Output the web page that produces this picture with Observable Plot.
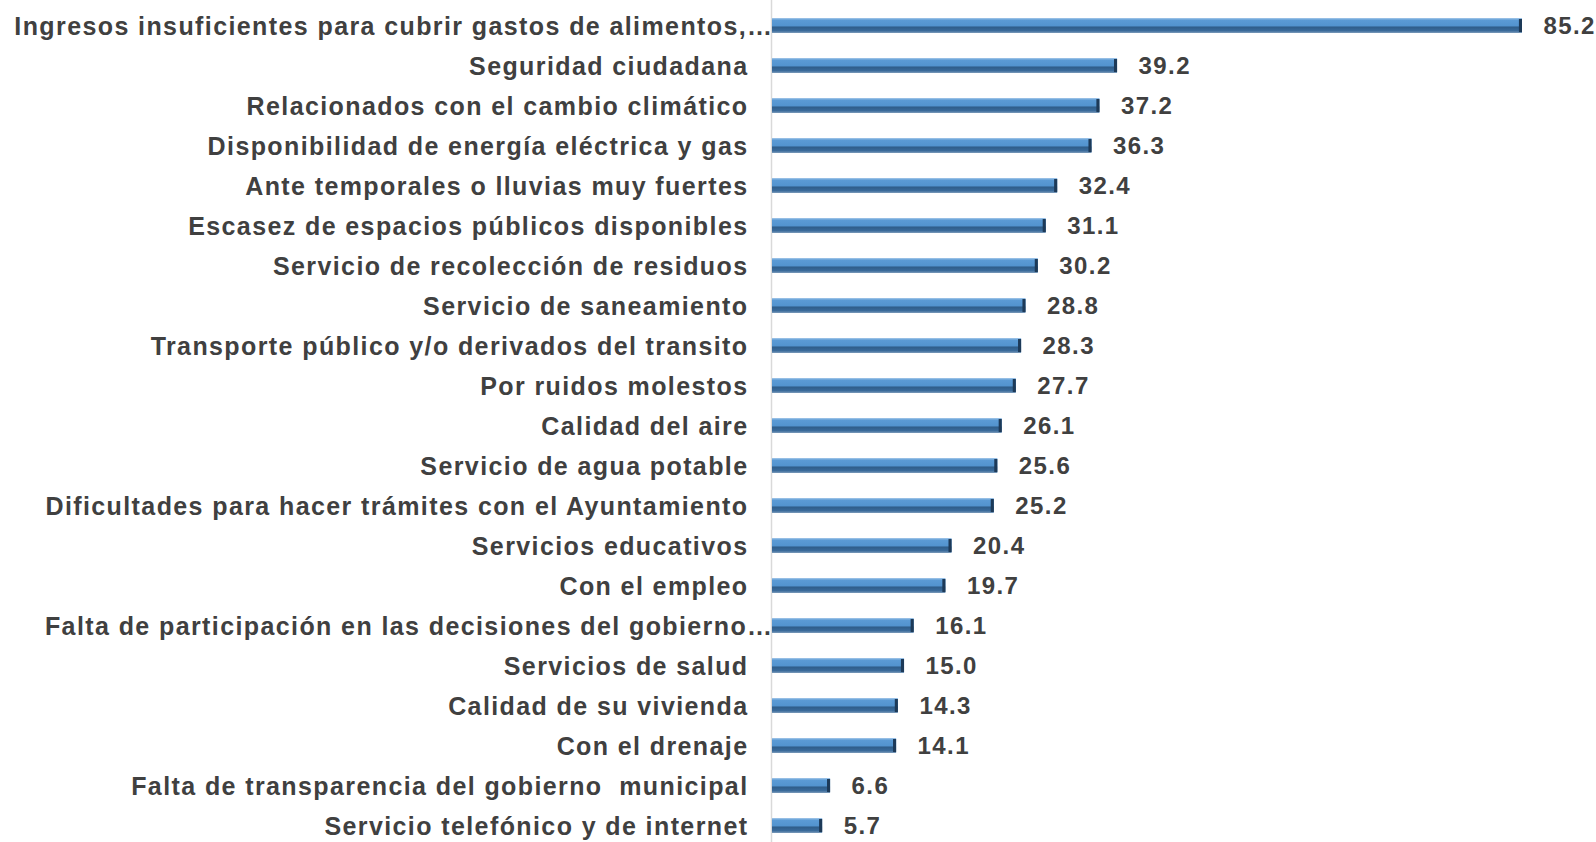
<!DOCTYPE html>
<html>
<head>
<meta charset="utf-8">
<script src="https://cdn.jsdelivr.net/npm/d3@7"></script>
<script src="https://cdn.jsdelivr.net/npm/@observablehq/plot@0.6"></script>
<style>
  html, body { margin: 0; padding: 0; background: #fff; }
</style>
</head>
<body>
<div id="chart"></div>
<script>
const categories = [
  "Ingresos insuficientes para cubrir gastos de alimentos,…",
  "Seguridad ciudadana",
  "Relacionados con el cambio climático",
  "Disponibilidad de energía eléctrica y gas",
  "Ante temporales o lluvias muy fuertes",
  "Escasez de espacios públicos disponibles",
  "Servicio de recolección de residuos",
  "Servicio de saneamiento",
  "Transporte público y/o derivados del transito",
  "Por ruidos molestos",
  "Calidad del aire",
  "Servicio de agua potable",
  "Dificultades para hacer trámites con el Ayuntamiento",
  "Servicios educativos",
  "Con el empleo",
  "Falta de participación en las decisiones del gobierno…",
  "Servicios de salud",
  "Calidad de su vivienda",
  "Con el drenaje",
  "Falta de transparencia del gobierno  municipal",
  "Servicio telefónico y de internet"
];
const values = [85.2, 39.2, 37.2, 36.3, 32.4, 31.1, 30.2, 28.8, 28.3, 27.7, 26.1, 25.6, 25.2, 20.4, 19.7, 16.1, 15.0, 14.3, 14.1, 6.6, 5.7];

const data = categories.map((c, i) => ({label: c, value: values[i]}));
const truncated = data.filter(d => d.label.endsWith("…"));
const full = data.filter(d => !d.label.endsWith("…"));

const chart = Plot.plot({
  width: 1596,
  height: 842,
  marginLeft: 772,
  marginRight: 74,
  marginTop: 0,
  marginBottom: 0,
  style: {fontFamily: "'Liberation Sans', Arial, sans-serif", letterSpacing: "1.4px", background: "#fff"},
  x: {domain: [0, 85.2], axis: null},
  y: {domain: categories, range: [4, 848], padding: 0, axis: null},
  marks: [
    Plot.ruleX([0], {stroke: "#d9d9d9", strokeWidth: 1.5, dx: -1}),
    Plot.barX(data, {y: "label", x: "value", fill: "url(#barg)", insetTop: 12, insetBottom: 13}),
    Plot.barX(data, {y: "label", x1: d => d.value - 0.35, x2: "value", fill: "#1d3a58", insetTop: 13, insetBottom: 14}),
    Plot.text(full, {y: "label", x: 0, text: "label", textAnchor: "end", dx: -24, dy: 0, fontSize: 25, fontWeight: "bold", fill: "#404040"}),
    Plot.text(truncated, {y: "label", x: 0, text: "label", textAnchor: "end", dx: 1, dy: 0, fontSize: 25, fontWeight: "bold", fill: "#404040"}),
    Plot.text(data, {y: "label", x: "value", text: d => d.value.toFixed(1), textAnchor: "start", dx: 21, dy: 0, fontSize: 24, fontWeight: "bold", fill: "#404040"})
  ]
});

const ns = "http://www.w3.org/2000/svg";
const defs = document.createElementNS(ns, "defs");
defs.innerHTML = `
<linearGradient id="barg" x1="0" y1="0" x2="0" y2="1">
  <stop offset="0" stop-color="#a7c9ea"/>
  <stop offset="0.14" stop-color="#5b9bd5"/>
  <stop offset="0.5" stop-color="#5394cf"/>
  <stop offset="0.62" stop-color="#2f5e8b"/>
  <stop offset="0.85" stop-color="#3a6b9b"/>
  <stop offset="1" stop-color="#7d9cbb"/>
</linearGradient>`;
chart.prepend(defs);

document.getElementById("chart").appendChild(chart);
</script>
</body>
</html>
